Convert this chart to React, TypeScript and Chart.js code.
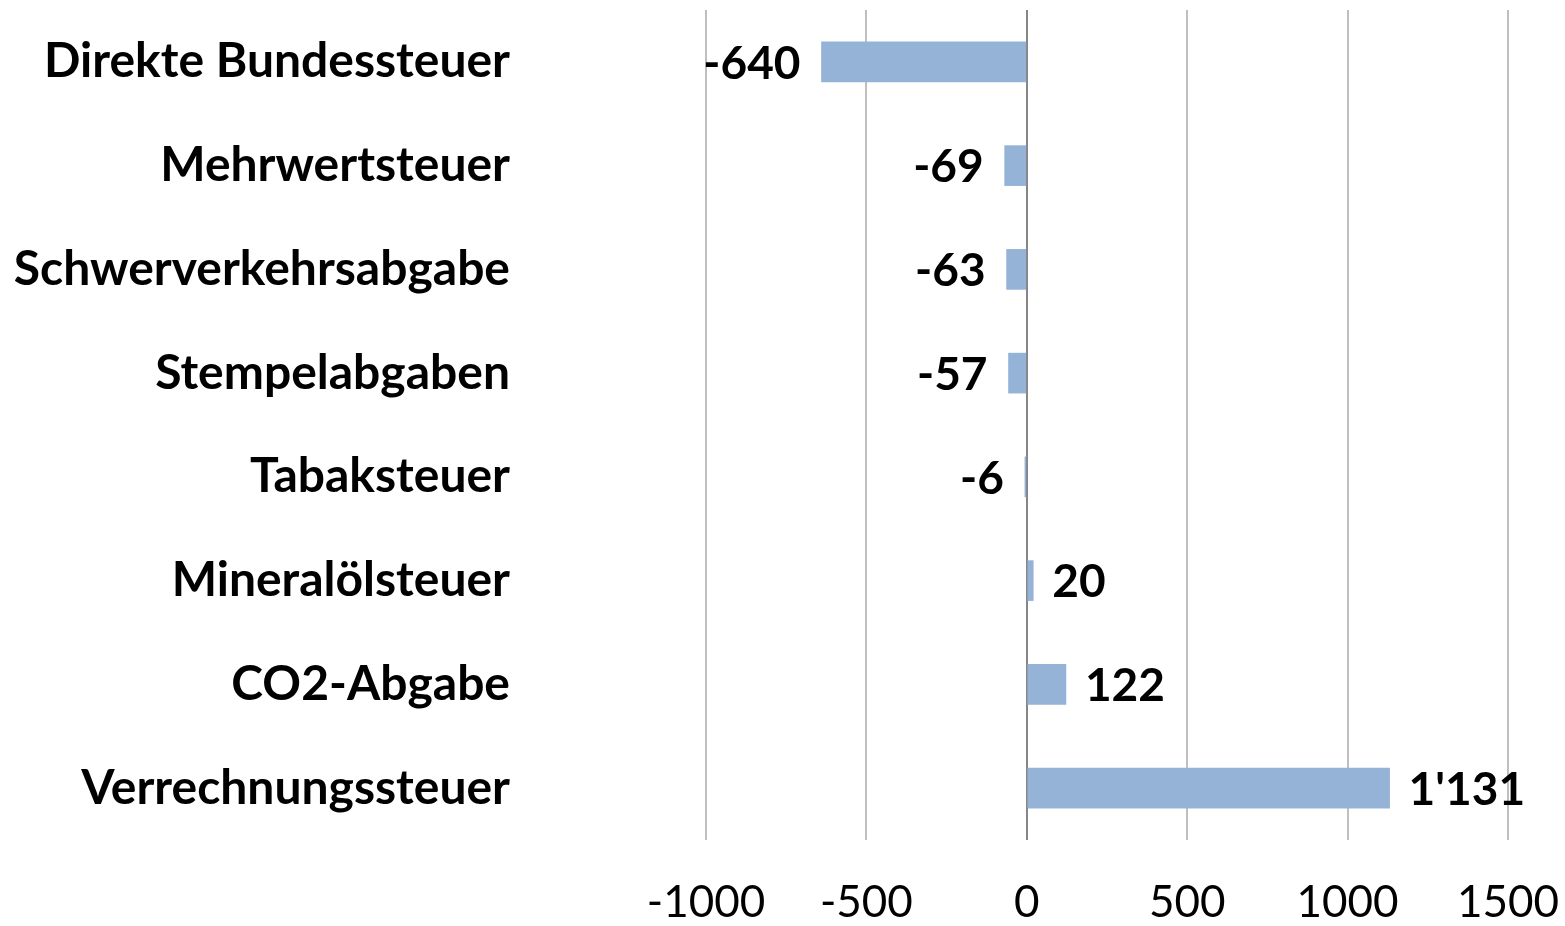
import React, { useEffect, useRef } from "react";
import { Chart, registerables } from "chart.js";

Chart.register(...registerables);

const categories = [
  "Direkte Bundessteuer",
  "Mehrwertsteuer",
  "Schwerverkehrsabgabe",
  "Stempelabgaben",
  "Tabaksteuer",
  "Mineralölsteuer",
  "CO2-Abgabe",
  "Verrechnungssteuer",
];
const values = [-640, -69, -63, -57, -6, 20, 122, 1131];
const xMin = -1000;
const xMax = 1500;
const xStep = 500;

const FONT = "Lato";
const BAR_COLOR = "#95B3D7";

function fmt(v: number): string {
  const s = Math.abs(v).toString().replace(/\B(?=(\d{3})+(?!\d))/g, "'");
  return (v < 0 ? "-" : "") + s;
}

const labelPlugin = {
  id: "valueLabels",
  afterDatasetsDraw(chart: any) {
    const ctx = chart.ctx;
    const meta = chart.getDatasetMeta(0);
    ctx.save();
    ctx.font = `bold 46px ${FONT}`;
    ctx.fillStyle = "#000";
    ctx.textBaseline = "middle";
    meta.data.forEach((bar: any, i: number) => {
      const v = values[i];
      const x = bar.x;
      const y = bar.y + 2;
      if (v < 0) {
        ctx.textAlign = "right";
        ctx.fillText(fmt(v), x - 21, y);
      } else {
        ctx.textAlign = "left";
        ctx.fillText(fmt(v), x + 19, y);
      }
    });
    ctx.restore();
  },
};

export default function App() {
  const ref = useRef<HTMLCanvasElement | null>(null);
  useEffect(() => {
    document.body.style.margin = "0";
    const chart = new Chart(ref.current!, {
      type: "bar",
      data: {
        labels: categories,
        datasets: [
          {
            data: values,
            backgroundColor: BAR_COLOR,
            barThickness: 40,
          },
        ],
      },
      options: {
        indexAxis: "y",
        animation: false,
        responsive: false,
        maintainAspectRatio: false,
        layout: { padding: { top: 10, right: 57, left: 0, bottom: 0 } },
        plugins: {
          legend: { display: false },
          tooltip: { enabled: false },
        },
        scales: {
          x: {
            min: xMin,
            max: xMax,
            ticks: {
              stepSize: xStep,
              color: "#000",
              font: { family: FONT, size: 44 },
              padding: 36,
              maxRotation: 0,
              callback: (v: any) => String(v),
            },
            grid: {
              drawTicks: false,
              color: (c: any) => (c.tick && c.tick.value === 0 ? "#868686" : "#BFBFBF"),
              lineWidth: 2,
            },
            border: { display: false },
            afterFit: (s: any) => {
              s.height = 86;
              s.paddingLeft = 0;
              s.paddingRight = 0;
            },
          },
          y: {
            ticks: {
              color: "#000",
              font: { family: FONT, size: 48, weight: "bold" },
              padding: 196,
            },
            grid: { display: false, drawTicks: false },
            border: { display: false },
            afterFit: (s: any) => {
              s.width = 706;
              s.paddingTop = 0;
              s.paddingBottom = 0;
            },
          },
        },
      },
      plugins: [labelPlugin],
    });
    return () => chart.destroy();
  }, []);
  return (
    <div style={{ position: "absolute", left: 0, top: 0, width: 1565, height: 926 }}>
      <canvas ref={ref} width={1565} height={926} style={{ width: 1565, height: 926 }} />
    </div>
  );
}
